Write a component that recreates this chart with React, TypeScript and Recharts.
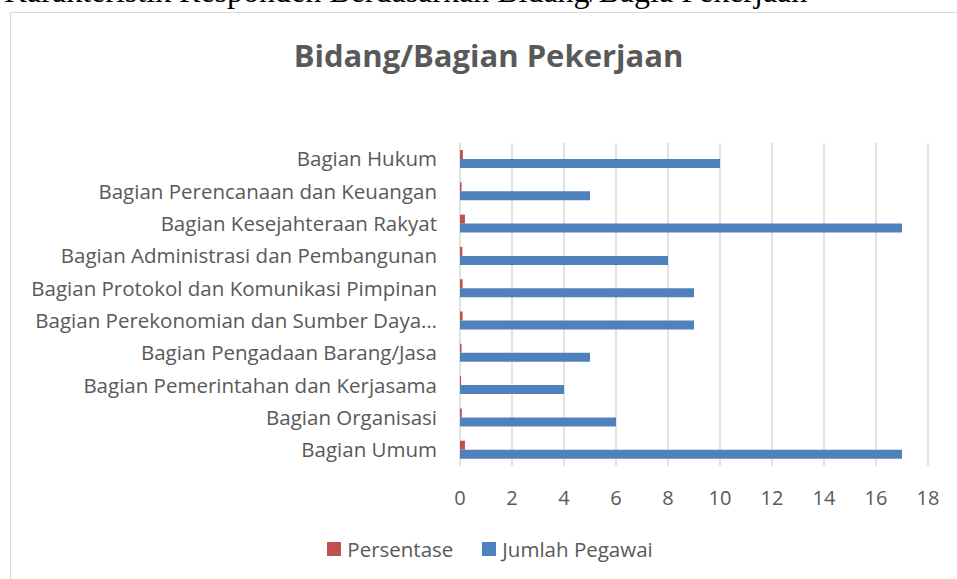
import React from 'react'
import {
  BarChart,
  Bar,
  XAxis,
  YAxis,
  CartesianGrid,
  Legend,
} from 'recharts'

// categories listed top to bottom as they appear in the chart
const bidang = [
  'Bagian Hukum',
  'Bagian Perencanaan dan Keuangan',
  'Bagian Kesejahteraan Rakyat',
  'Bagian Administrasi dan Pembangunan',
  'Bagian Protokol dan Komunikasi Pimpinan',
  'Bagian Perekonomian dan Sumber Daya…',
  'Bagian Pengadaan Barang/Jasa',
  'Bagian Pemerintahan dan Kerjasama',
  'Bagian Organisasi',
  'Bagian Umum',
]
const jumlahPegawai = [10, 5, 17, 8, 9, 9, 5, 4, 6, 17]
const persentase = [0.11, 0.06, 0.19, 0.09, 0.1, 0.1, 0.06, 0.04, 0.07, 0.19]
const xTicks = [0, 2, 4, 6, 8, 10, 12, 14, 16, 18]

const data = bidang.map((name, i) => ({
  name,
  persentase: persentase[i],
  jumlah: jumlahPegawai[i],
}))

const FONT = '"Open Sans", sans-serif'
const GREY = '#595959'

const swatch = (color: string) => (
  <span style={{ width: 14, height: 14, flexShrink: 0, background: color, marginRight: 6 }} />
)

const LegendBox = () => (
  <div style={{ display: 'flex', justifyContent: 'center', gap: 29, fontFamily: FONT, fontSize: 20.5, color: GREY, paddingLeft: 42 }}>
    <span style={{ display: 'flex', alignItems: 'center' }}>
      {swatch('#C0504D')}
      Persentase
    </span>
    <span style={{ display: 'flex', alignItems: 'center' }}>
      {swatch('#4F81BD')}
      Jumlah Pegawai
    </span>
  </div>
)

export default function App() {
  return (
    <div style={{ position: 'absolute', left: 0, top: 0, width: 957, height: 579, overflow: 'hidden', background: '#fff' }}>
      <div style={{ position: 'absolute', left: 4, top: -25, fontFamily: '"Liberation Serif", serif', fontSize: 32, lineHeight: '32px', whiteSpace: 'nowrap', color: '#000' }}>
        Karakteristik Responden Berdasarkan Bidang/Bagia Pekerjaan
      </div>
      <div style={{ position: 'absolute', left: 10, top: 12, width: 960, height: 580, border: '1px solid #d9d9d9', boxSizing: 'border-box' }} />
      <div style={{ position: 'absolute', left: 10, top: 34, width: 957, textAlign: 'center', fontFamily: FONT, fontWeight: 700, fontSize: 31, color: GREY }}>
        Bidang/Bagian Pekerjaan
      </div>
      <div style={{ position: 'absolute', left: 10, top: 12 }}>
        <BarChart
          width={947}
          height={567}
          data={data}
          layout="vertical"
          margin={{ top: 131, right: 29, bottom: 0, left: 0 }}
          barGap={0}
          barCategoryGap="22%"
        >
          <CartesianGrid horizontal={false} stroke="#d9d9d9" strokeWidth={1.5} />
          <XAxis
            type="number"
            domain={[0, 18]}
            ticks={xTicks}
            axisLine={false}
            tickLine={false}
            tickMargin={19}
            height={85}
            tick={{ fill: GREY, fontSize: 20, fontFamily: FONT }}
          />
          <YAxis
            type="category"
            dataKey="name"
            width={450}
            axisLine={false}
            tickLine={false}
            tickMargin={17}
            interval={0}
            tick={{ fill: GREY, fontSize: 20.5, fontFamily: FONT }}
          />
          <Legend content={<LegendBox />} verticalAlign="bottom" wrapperStyle={{ bottom: 16 }} />
          <Bar dataKey="persentase" name="Persentase" fill="#C0504D" barSize={9} isAnimationActive={false} />
          <Bar dataKey="jumlah" name="Jumlah Pegawai" fill="#4F81BD" barSize={9} isAnimationActive={false} />
        </BarChart>
      </div>
    </div>
  )
}
